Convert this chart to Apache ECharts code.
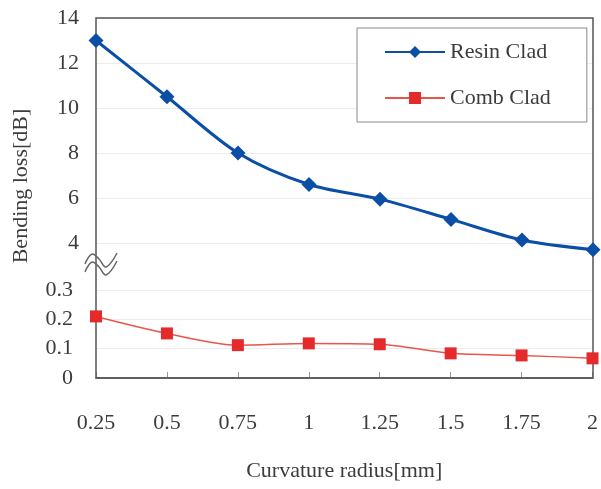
<!DOCTYPE html>
<html>
<head>
<meta charset="utf-8">
<script src="https://cdn.jsdelivr.net/npm/echarts@6/dist/echarts.min.js"></script>
<style>
  html, body { margin: 0; padding: 0; background: #fff; }
  #chart { width: 601px; height: 489px; }
</style>
</head>
<body>
<div id="chart"></div>
<script>
const radius = [0.25, 0.5, 0.75, 1, 1.25, 1.5, 1.75, 2];
const resinClad = [13.0, 10.5, 8.0, 6.6, 5.95, 5.05, 4.13, 3.7];
const combClad = [0.21, 0.152, 0.112, 0.118, 0.115, 0.084, 0.077, 0.067];

const serif = 'Liberation Serif';
const txt = '#3c3c3c';
const fs = 22;

const pairs = (ys) => radius.map((x, i) => [x, ys[i]]);

// the little "~~" axis-break mark on the left edge
function breakMark(dy) {
  return {
    type: 'polyline', z: 5, silent: true,
    shape: { points: [[85, 264 + dy], [92, 254 + dy], [99, 259 + dy], [106, 267 + dy], [117, 253 + dy]], smooth: 0.4 },
    style: { fill: 'none', stroke: '#666', lineWidth: 1.5 }
  };
}

const chart = echarts.init(document.getElementById('chart'));

chart.setOption({
  animation: false,
  backgroundColor: '#fff',
  textStyle: { fontFamily: serif },
  grid: [
    { left: 96, right: 8, top: 18, height: 225 },
    { left: 96, right: 8, top: 290, height: 88 }
  ],
  legend: {
    orient: 'vertical',
    left: 357,
    top: 28,
    padding: [13, 36, 13, 27],
    itemWidth: 60,
    itemHeight: 15,
    itemGap: 24,
    backgroundColor: '#fff',
    borderColor: '#888',
    borderWidth: 1,
    textStyle: { fontFamily: serif, fontSize: fs, color: txt }
  },
  xAxis: [
    {
      gridIndex: 0, type: 'value', min: 0.25, max: 2, interval: 0.25,
      axisLine: { show: false }, axisTick: { show: false },
      axisLabel: { show: false }, splitLine: { show: false }
    },
    {
      gridIndex: 1, type: 'value', min: 0.25, max: 2, interval: 0.25,
      axisLine: { show: true, lineStyle: { color: '#555', width: 1.5 } },
      axisTick: { show: true, inside: true, length: 6, lineStyle: { color: '#999' } },
      axisLabel: { margin: 34, fontFamily: serif, fontSize: fs, color: txt },
      splitLine: { show: false },
      name: 'Curvature radius[mm]',
      nameLocation: 'middle',
      nameGap: 82,
      nameTextStyle: { fontFamily: serif, fontSize: fs, color: txt }
    }
  ],
  yAxis: [
    {
      gridIndex: 0, type: 'value', min: 4, max: 14, interval: 2,
      axisLine: { show: false }, axisTick: { show: false },
      axisLabel: { margin: 17, fontFamily: serif, fontSize: fs, color: txt },
      splitLine: { show: true, lineStyle: { color: '#ececec' } }
    },
    {
      gridIndex: 1, type: 'value', min: 0, max: 0.3, interval: 0.1,
      axisLine: { show: false }, axisTick: { show: false },
      axisLabel: { margin: 23, fontFamily: serif, fontSize: fs, color: txt },
      splitLine: { show: true, lineStyle: { color: '#ececec' } }
    }
  ],
  graphic: [
    {
      type: 'rect', z: 1, silent: true,
      shape: { x: 96, y: 18, width: 497, height: 360 },
      style: { fill: 'none', stroke: '#555', lineWidth: 1.5 }
    },
    breakMark(0),
    breakMark(8),
    {
      type: 'text', z: 5, silent: true,
      x: 21, y: 186, rotation: Math.PI / 2,
      style: {
        text: 'Bending loss[dB]', fontFamily: serif, fontSize: fs, fill: txt,
        align: 'center', verticalAlign: 'middle'
      }
    }
  ],
  series: [
    {
      name: 'Resin Clad', type: 'line', xAxisIndex: 0, yAxisIndex: 0,
      data: pairs(resinClad), smooth: 0.3, clip: false,
      symbol: 'diamond', symbolSize: 15,
      lineStyle: { color: '#0b4ea6', width: 3 },
      itemStyle: { color: '#0b4ea6' }
    },
    {
      name: 'Comb Clad', type: 'line', xAxisIndex: 1, yAxisIndex: 1,
      data: pairs(combClad), smooth: 0.3, clip: false,
      symbol: 'rect', symbolSize: 12,
      lineStyle: { color: '#e8554a', width: 1.5 },
      itemStyle: { color: '#e42a2a' }
    }
  ]
});
</script>
</body>
</html>
